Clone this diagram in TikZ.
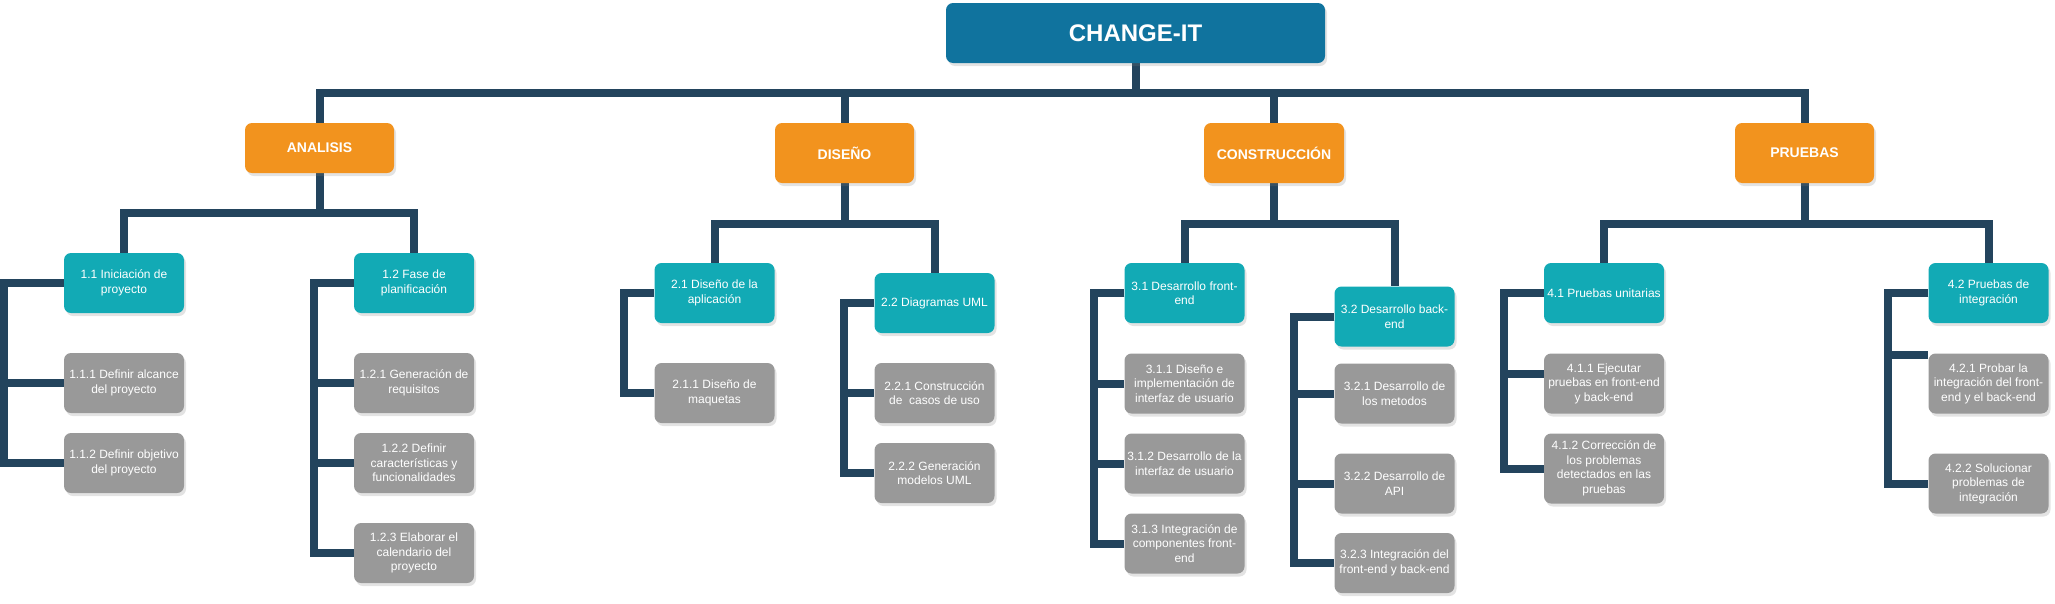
\documentclass[tikz,border=0pt]{standalone}
\usepackage{fontspec}
\setmainfont{Liberation Sans}
\usetikzlibrary{shadows}
\definecolor{rootc}{HTML}{10739E}
\definecolor{phasec}{HTML}{F2931E}
\definecolor{tealc}{HTML}{12AAB5}
\definecolor{grayc}{HTML}{999999}
\definecolor{linec}{HTML}{23445D}
\pgfdeclarelayer{bg}
\pgfsetlayers{bg,main}
\begin{document}
\begin{tikzpicture}[x=1pt,y=-1pt,
  box/.style={rounded corners=7pt, text=white, align=center, inner sep=0pt,
    drop shadow={opacity=0.22, shadow xshift=2pt, shadow yshift=-3pt}},
  rootbox/.style={box, fill=rootc, minimum width=379pt, minimum height=60pt,
    font=\bfseries\fontsize{24}{28}\selectfont},
  phasebox/.style={box, fill=phasec, minimum width=139pt, minimum height=60pt,
    font=\bfseries\fontsize{14}{17}\selectfont},
  subbox/.style={box, fill=tealc, minimum width=120pt, minimum height=60pt,
    font=\fontsize{12}{14.5}\selectfont},
  leafbox/.style={box, fill=grayc, minimum width=120pt, minimum height=60pt,
    font=\fontsize{12}{14.5}\selectfont},
  conn/.style={draw=linec, line width=8pt, line join=miter},
]
\useasboundingbox (0,0) rectangle (2055,603);

% root and phases
\node[rootbox] (root) at (1135.5,33) {CHANGE-IT};
\node[phasebox, minimum width=149pt, minimum height=50pt] (ana) at (319.5,148) {ANALISIS};
\node[phasebox] (dis) at (844.5,153) {DISEÑO};
\node[phasebox, minimum width=140pt] (con) at (1274,153) {CONSTRUCCIÓN};
\node[phasebox] (pru) at (1804.5,153) {PRUEBAS};

% level 2
\node[subbox] (n11) at (124,283) {1.1 Iniciación de\\proyecto};
\node[subbox] (n12) at (414,283) {1.2 Fase de\\planificación};
\node[subbox] (n21) at (714.5,293) {2.1 Diseño de la\\aplicación};
\node[subbox] (n22) at (934.5,303) {2.2 Diagramas UML};
\node[subbox] (n31) at (1184.5,293) {3.1 Desarrollo front-\\end};
\node[subbox] (n32) at (1394.5,316.5) {3.2 Desarrollo back-\\end};
\node[subbox] (n41) at (1604,293) {4.1 Pruebas unitarias};
\node[subbox] (n42) at (1988.5,293) {4.2 Pruebas de\\integración};

% level 3
\node[leafbox] (n111) at (124,383) {1.1.1 Definir alcance\\del proyecto};
\node[leafbox] (n112) at (124,463) {1.1.2 Definir objetivo\\del proyecto};
\node[leafbox] (n121) at (414,383) {1.2.1 Generación de\\requisitos};
\node[leafbox] (n122) at (414,463) {1.2.2 Definir\\características y\\funcionalidades};
\node[leafbox] (n123) at (414,553) {1.2.3 Elaborar el\\calendario del\\proyecto};
\node[leafbox] (n211) at (714.5,393) {2.1.1 Diseño de\\maquetas};
\node[leafbox] (n221) at (934.5,393) {2.2.1 Construcción\\de\ \ casos de uso};
\node[leafbox] (n222) at (934.5,473) {2.2.2 Generación\\modelos UML};
\node[leafbox] (n311) at (1184.5,383.5) {3.1.1 Diseño e\\implementación de\\interfaz de usuario};
\node[leafbox] (n312) at (1184.5,463.5) {3.1.2 Desarrollo de la\\interfaz de usuario};
\node[leafbox] (n313) at (1184.5,543.5) {3.1.3 Integración de\\componentes front-\\end};
\node[leafbox] (n321) at (1394.5,393.5) {3.2.1 Desarrollo de\\los metodos};
\node[leafbox] (n322) at (1394.5,483.5) {3.2.2 Desarrollo de\\API};
\node[leafbox] (n323) at (1394.5,563) {3.2.3 Integración del\\front-end y back-end};
\node[leafbox] (n411) at (1604,383.5) {4.1.1 Ejecutar\\pruebas en front-end\\y back-end};
\node[leafbox, minimum height=70pt] (n412) at (1604,468.5) {4.1.2 Corrección de\\los problemas\\detectados en las\\pruebas};
\node[leafbox] (n421) at (1988.5,383.5) {4.2.1 Probar la\\integración del front-\\end y el back-end};
\node[leafbox] (n422) at (1988.5,483.5) {4.2.2 Solucionar\\problemas de\\integración};

\begin{pgfonlayer}{bg}
% root to phases
\foreach \p in {ana,dis,con,pru}
  \draw[conn] (root.south) -- ++(0,30) -| (\p.north);
% phases to level 2
\draw[conn] (ana.south) -- ++(0,40) -| (n11.north);
\draw[conn] (ana.south) -- ++(0,40) -| (n12.north);
\draw[conn] (dis.south) -- ++(0,41) -| (n21.north);
\draw[conn] (dis.south) -- ++(0,41) -| (n22.north);
\draw[conn] (con.south) -- ++(0,41) -| (n31.north);
\draw[conn] (con.south) -- ++(0,41) -| (n32.north);
\draw[conn] (pru.south) -- ++(0,41) -| (n41.north);
\draw[conn] (pru.south) -- ++(0,41) -| (n42.north);
% brackets
\foreach \c in {n111,n112}
  \draw[conn] (n11.west) -- ++(-60,0) |- (\c.west);
\foreach \c in {n121,n122,n123}
  \draw[conn] (n12.west) -- ++(-40,0) |- (\c.west);
\draw[conn] (n21.west) -- ++(-30,0) |- (n211.west);
\foreach \c in {n221,n222}
  \draw[conn] (n22.west) -- ++(-30,0) |- (\c.west);
\foreach \c in {n311,n312,n313}
  \draw[conn] (n31.west) -- ++(-30,0) |- (\c.west);
\foreach \c in {n321,n322,n323}
  \draw[conn] (n32.west) -- ++(-40,0) |- (\c.west);
\draw[conn] (n41.west) -- ++(-40,0) |- ([yshift=10pt]n411.west);
\draw[conn] (n41.west) -- ++(-40,0) |- (n412.west);
\draw[conn] (n42.west) -- ++(-40,0) |- ([yshift=29pt]n421.west);
\draw[conn] (n42.west) -- ++(-40,0) |- (n422.west);
\end{pgfonlayer}
\end{tikzpicture}
\end{document}
